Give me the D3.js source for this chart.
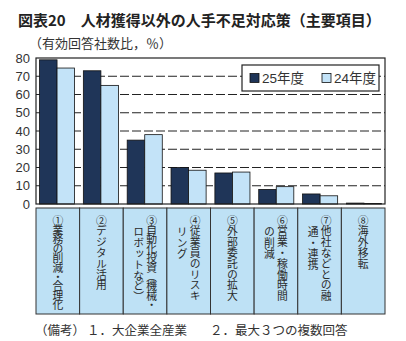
<!DOCTYPE html>
<html>
<head>
<meta charset="utf-8">
<title>図表20 人材獲得以外の人手不足対応策</title>
<script src="https://d3js.org/d3.v7.min.js"></script>
<style>
  body { margin: 0; background: #fff; }
  svg { display: block; font-family: "Liberation Sans", "Noto Sans CJK JP", sans-serif; }
  .jp { font-family: "Noto Sans CJK JP", sans-serif; }
</style>
</head>
<body>
<div id="chart"></div>
<script>
// data
const categories = ["1", "2", "3", "4", "5", "6", "7", "8"];
const catLabels = [
  ["①業務の削減・合理化"],
  ["②デジタル活用"],
  ["③自動化投資（機械・", "ロボットなど）"],
  ["④従業員のリスキ", "リング"],
  ["⑤外部委託の拡大"],
  ["⑥営業・稼働時間", "の削減"],
  ["⑦他社などとの融", "通・連携"],
  ["⑧海外移転"]
];
const seriesNames = ["25年度", "24年度"];
const fy25 = [79, 73, 35, 20, 17, 8, 5.5, 0.5];
const fy24 = [74.5, 65, 38, 18.5, 17.5, 9.5, 4.5, 0.3];
const yTicks = [0, 10, 20, 30, 40, 50, 60, 70, 80];
const notes = [["（備考）", 35], ["１．大企業全産業", 87], ["２．最大３つの複数回答", 210]];
const colors = ["#1f3558", "#c3e3f8"];

const W = 406, H = 341;
const plotL = 36, plotR = 385, plotT = 58, plotB = 204;

const svg = d3.select("#chart").append("svg")
  .attr("width", W).attr("height", H);

const x = d3.scaleBand().domain(categories).range([plotL, plotR])
  .paddingInner(0.2).paddingOuter(0.08);
const xs = d3.scaleBand().domain(seriesNames).range([0, x.bandwidth()]);
const cell = d3.scaleBand().domain(categories).range([plotL, plotR]);
const y = d3.scaleLinear().domain([0, 80]).range([plotB, plotT]);

// title
svg.append("text").attr("class", "jp")
  .attr("x", 18).attr("y", 26)
  .attr("font-size", 15).attr("font-weight", "bold").attr("fill", "#222")
  .text("図表20　人材獲得以外の人手不足対応策（主要項目）");
svg.append("text").attr("class", "jp")
  .attr("x", 29).attr("y", 48)
  .attr("font-size", 13).attr("fill", "#333")
  .text("（有効回答社数比，％）");

// grid lines
svg.append("g").selectAll("line")
  .data(yTicks.filter(d => d > 0 && d < 80))
  .join("line")
  .attr("x1", plotL).attr("x2", plotR)
  .attr("y1", d => y(d)).attr("y2", d => y(d))
  .attr("stroke", "#222").attr("stroke-width", 1)
  .attr("stroke-dasharray", "9,3");

// bars
const rows = categories.map((c, i) => ({ c, vals: [fy25[i], fy24[i]] }));
svg.append("g").selectAll("g")
  .data(rows)
  .join("g")
  .attr("transform", d => `translate(${x(d.c)},0)`)
  .selectAll("rect")
  .data(d => d.vals.map((v, j) => ({ s: seriesNames[j], v, j })))
  .join("rect")
  .attr("x", d => xs(d.s))
  .attr("y", d => y(d.v))
  .attr("width", xs.bandwidth())
  .attr("height", d => y(0) - y(d.v))
  .attr("fill", d => colors[d.j])
  .attr("stroke", "#111").attr("stroke-width", 0.8);

// frame
svg.append("rect")
  .attr("x", plotL).attr("y", plotT)
  .attr("width", plotR - plotL).attr("height", plotB - plotT)
  .attr("fill", "none").attr("stroke", "#222").attr("stroke-width", 1.2);

// y axis
const yAxis = svg.append("g")
  .attr("transform", `translate(${plotL},0)`)
  .call(d3.axisLeft(y).tickValues(yTicks).tickSize(0).tickPadding(6));
yAxis.select(".domain").remove();
yAxis.selectAll("text")
  .attr("font-size", 13).attr("fill", "#333")
  .attr("font-family", "Liberation Sans, sans-serif");

// legend
const lg = svg.append("g");
lg.append("rect")
  .attr("x", 242).attr("y", 65).attr("width", 137).attr("height", 26)
  .attr("fill", "#fff").attr("stroke", "#222").attr("stroke-width", 1.2);
const li = lg.selectAll("g.item").data(seriesNames).join("g")
  .attr("class", "item")
  .attr("transform", (d, i) => `translate(${250 + i * 72},78)`);
li.append("rect")
  .attr("x", 0).attr("y", -4.5).attr("width", 9).attr("height", 9)
  .attr("fill", (d, i) => colors[i]).attr("stroke", "#111").attr("stroke-width", 0.8);
li.append("text")
  .attr("x", 12).attr("y", 0).attr("dy", "0.36em")
  .attr("font-size", 13.5).attr("fill", "#333")
  .text(d => d);

// category label table
const boxTop = 208, boxBottom = 314;
const cells = svg.append("g");
cells.selectAll("rect")
  .data(categories)
  .join("rect")
  .attr("x", d => cell(d)).attr("y", boxTop)
  .attr("width", cell.bandwidth()).attr("height", boxBottom - boxTop)
  .attr("fill", "#bee1f5").attr("stroke", "#333").attr("stroke-width", 1);

const fs = 10.8, textTop = 215, colGap = 13;
categories.forEach((c, i) => {
  const cols = catLabels[i];
  const cx = cell(c) + cell.bandwidth() / 2;
  cols.forEach((t, k) => {
    const n = Array.from(t).length;
    const startY = k === 0 ? textTop : textTop + fs + 1;
    const avail = boxBottom - 5 - startY;
    const ls = n * fs > avail ? (avail - n * fs) / n : 0;
    const colX = cols.length === 1 ? cx : cx + colGap / 2 - k * colGap;
    cells.append("text").attr("class", "jp")
      .attr("x", colX).attr("y", startY)
      .style("writing-mode", "vertical-rl")
      .style("letter-spacing", ls + "px")
      .attr("font-size", fs).attr("fill", "#2a2a2a")
      .text(t);
  });
});

// note
svg.append("g").selectAll("text")
  .data(notes)
  .join("text").attr("class", "jp")
  .attr("x", d => d[1]).attr("y", 335)
  .attr("font-size", 12.5).attr("fill", "#333")
  .text(d => d[0]);
</script>
</body>
</html>
